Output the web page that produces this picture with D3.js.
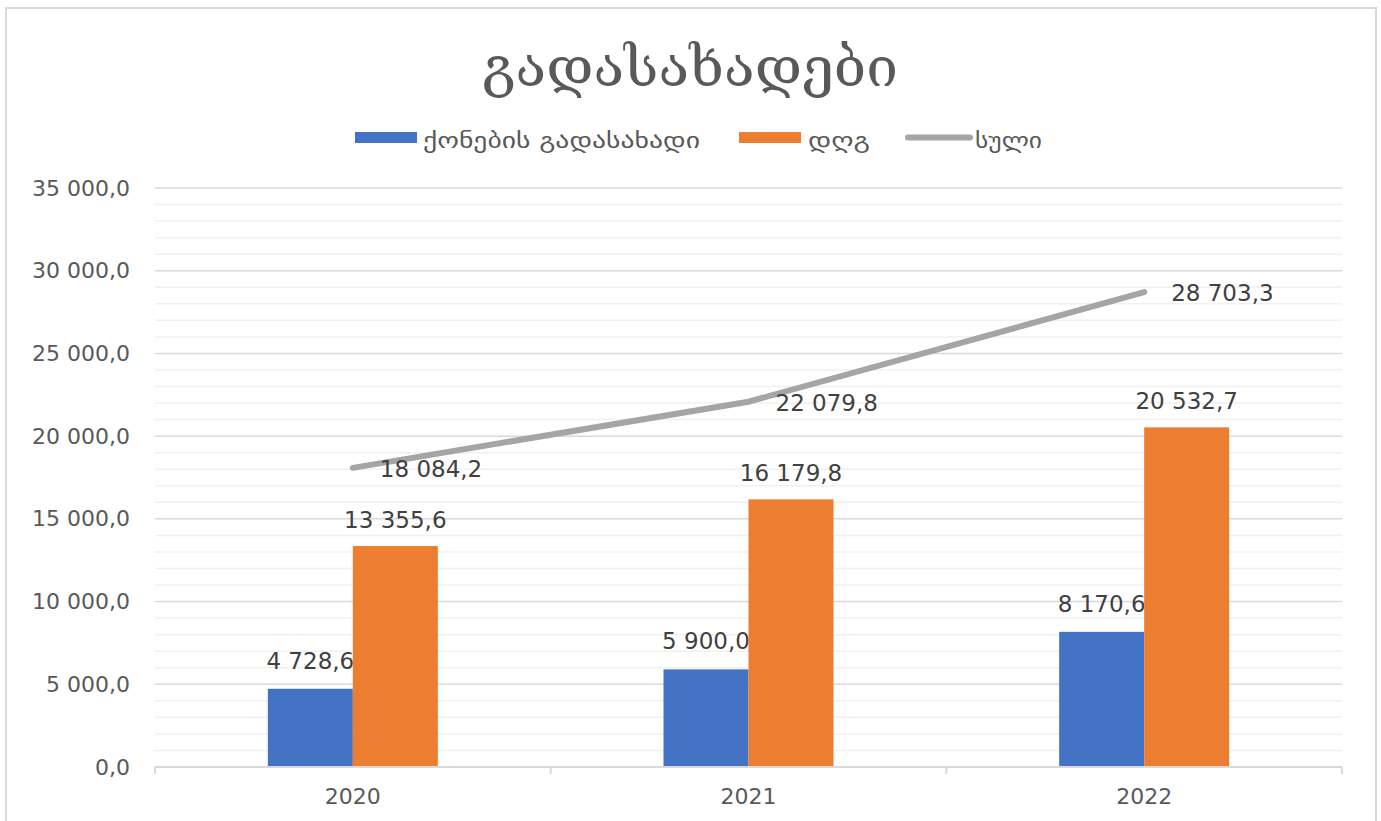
<!DOCTYPE html>
<html><head><meta charset="utf-8">
<script src="https://cdn.jsdelivr.net/npm/d3@7"></script>
<style>body{margin:0;background:#fff}svg{display:block}</style>
</head><body>
<svg id="c" width="1381" height="821"></svg>
<script>
const categories = ["2020", "2021", "2022"];
const propertyTax = [4728.6, 5900.0, 8170.6];
const vat = [13355.6, 16179.8, 20532.7];
const total = [18084.2, 22079.8, 28703.3];
const yTicks = [0, 5000, 10000, 15000, 20000, 25000, 30000, 35000];
const seriesNames = ["ქონების გადასახადი", "დღგ", "სული"];
const title = "გადასახადები";

(function () {
const colors = {blue: "#4472c4", orange: "#ed7d31", gray: "#a5a5a5", text: "#595959", label: "#404040"};
const geo = "'DejaVu Sans', sans-serif";
const num = "'DejaVu Sans', sans-serif";

const fmt = v => {
  const [i, d] = v.toFixed(1).split(".");
  return i.replace(/\B(?=(\d{3})+(?!\d))/g, " ") + "," + d;
};

const svg = d3.select("#c");
svg.append("rect").attr("x", 6).attr("y", 8).attr("width", 1370).attr("height", 820)
  .attr("fill", "none").attr("stroke", "#d9d9d9").attr("stroke-width", 2);

const pLeft = 155, pRight = 1342, pTop = 188, pBottom = 767;
const x = d3.scaleBand().domain(categories).range([pLeft, pRight]);
const y = d3.scaleLinear().domain([0, 35000]).range([pBottom, pTop]);

const minor = d3.range(1000, 35001, 1000).filter(v => v % 5000 !== 0);
svg.append("g").selectAll("line").data(minor).join("line")
  .attr("x1", pLeft).attr("x2", pRight).attr("y1", d => y(d)).attr("y2", d => y(d))
  .attr("stroke", "#f0f0f0").attr("stroke-width", 1.5);
svg.append("g").selectAll("line").data(yTicks.filter(v => v > 0)).join("line")
  .attr("x1", pLeft).attr("x2", pRight).attr("y1", d => y(d)).attr("y2", d => y(d))
  .attr("stroke", "#d9d9d9").attr("stroke-width", 1.5);

const yAxis = d3.axisLeft(y).tickValues(yTicks).tickFormat(fmt).tickSize(0).tickPadding(25);
const gy = svg.append("g").attr("transform", `translate(${pLeft},0)`).call(yAxis);
gy.select(".domain").remove();
gy.selectAll("text").attr("fill", colors.text).style("font-family", num).style("font-size", "22px");

const inner = d3.scaleBand().domain([0, 1]).range([0, 170]);
const off = (x.bandwidth() - 170) / 2;
const lab = svg.append("g").style("font-family", num).style("font-size", "23px").attr("fill", colors.label);

// blue bars + labels (orange bars drawn over them, as in the reference)
svg.append("g").selectAll("rect").data(categories).join("rect")
  .attr("x", d => x(d) + off + inner(0)).attr("width", inner.bandwidth())
  .attr("y", (d, i) => y(propertyTax[i])).attr("height", (d, i) => pBottom - y(propertyTax[i]))
  .attr("fill", colors.blue);
svg.append("g").style("font-family", num).style("font-size", "23px").attr("fill", colors.label)
  .selectAll("text").data(categories).join("text")
  .attr("x", d => x(d) + off + inner(0) + inner.bandwidth() / 2)
  .attr("y", (d, i) => y(propertyTax[i]) - 20).attr("text-anchor", "middle")
  .text((d, i) => fmt(propertyTax[i]));
svg.append("g").selectAll("rect").data(categories).join("rect")
  .attr("x", d => x(d) + off + inner(1)).attr("width", inner.bandwidth())
  .attr("y", (d, i) => y(vat[i])).attr("height", (d, i) => pBottom - y(vat[i]))
  .attr("fill", colors.orange);

const xAxis = d3.axisBottom(x).tickSize(0).tickPadding(21);
const gx = svg.append("g").attr("transform", `translate(0,${pBottom})`).call(xAxis);
gx.select(".domain").remove();
gx.selectAll("text").attr("fill", colors.text).style("font-family", num).style("font-size", "22px");
svg.append("line").attr("x1", pLeft).attr("x2", pRight).attr("y1", pBottom).attr("y2", pBottom)
  .attr("stroke", "#d9d9d9").attr("stroke-width", 2);
const bounds = categories.map(c => x(c)).concat([pRight]);
svg.append("g").selectAll("line").data(bounds).join("line")
  .attr("x1", d => d).attr("x2", d => d).attr("y1", pBottom).attr("y2", pBottom + 7)
  .attr("stroke", "#d9d9d9").attr("stroke-width", 2);

const cx = d => x(d) + x.bandwidth() / 2;
const line = d3.line().x((d, i) => cx(categories[i])).y(d => y(d));
svg.append("path").datum(total).attr("d", line).attr("fill", "none")
  .attr("stroke", colors.gray).attr("stroke-width", 6).attr("stroke-linecap", "round");

const lab2 = svg.append("g").style("font-family", num).style("font-size", "23px").attr("fill", colors.label);
lab2.selectAll(".l2").data(categories).join("text").attr("class", "l2")
  .attr("x", d => x(d) + off + inner(1) + inner.bandwidth() / 2)
  .attr("y", (d, i) => y(vat[i]) - 18).attr("text-anchor", "middle")
  .text((d, i) => fmt(vat[i]));
lab2.selectAll(".l3").data(categories).join("text").attr("class", "l3")
  .attr("x", d => cx(d) + 27)
  .attr("y", (d, i) => y(total[i]) + 9)
  .text((d, i) => fmt(total[i]));

svg.append("text").attr("x", 482).attr("y", 86)
  .attr("textLength", 416).attr("lengthAdjust", "spacingAndGlyphs")
  .attr("fill", colors.text).style("font-family", "'DejaVu Serif', serif").style("font-size", "54px")
  .text(title);

const lg = svg.append("g").style("font-family", geo).style("font-size", "21px").attr("fill", colors.text);
lg.append("rect").attr("x", 355).attr("y", 132).attr("width", 62).attr("height", 11).attr("fill", colors.blue);
lg.append("text").attr("x", 423).attr("y", 148).attr("textLength", 277).attr("lengthAdjust", "spacingAndGlyphs").text(seriesNames[0]);
lg.append("rect").attr("x", 739).attr("y", 132).attr("width", 62).attr("height", 11).attr("fill", colors.orange);
lg.append("text").attr("x", 808).attr("y", 148).attr("textLength", 62).attr("lengthAdjust", "spacingAndGlyphs").text(seriesNames[1]);
lg.append("line").attr("x1", 908).attr("x2", 970).attr("y1", 137.5).attr("y2", 137.5)
  .attr("stroke", colors.gray).attr("stroke-width", 6).attr("stroke-linecap", "round");
lg.append("text").attr("x", 975).attr("y", 148).attr("textLength", 67).attr("lengthAdjust", "spacingAndGlyphs").text(seriesNames[2]);
})();
</script>
</body></html>
